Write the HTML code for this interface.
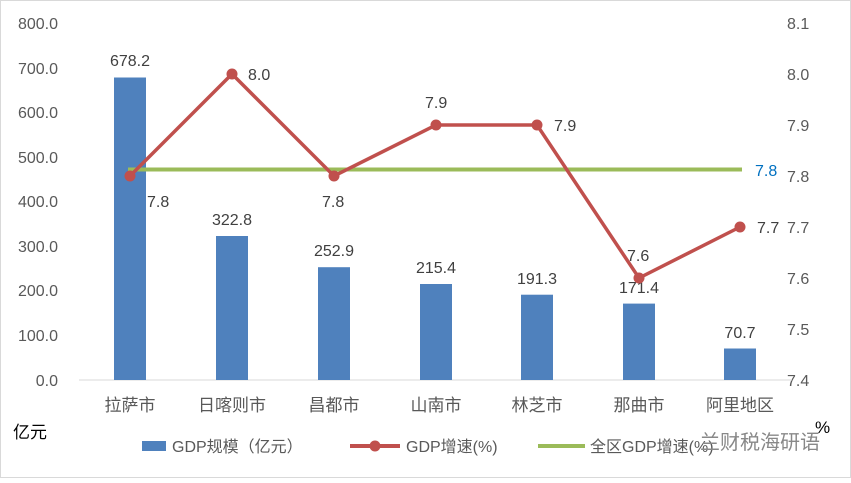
<!DOCTYPE html>
<html><head><meta charset="utf-8"><style>
html,body{margin:0;padding:0;background:#fff}
svg text{font-family:"Liberation Sans","Noto Sans CJK SC",sans-serif;fill:#595959}
</style></head><body>
<svg width="851" height="478" viewBox="0 0 851 478">
<rect x="0.5" y="0.5" width="850" height="477" fill="#fff" stroke="#d9d9d9"/>
<g font-size="16" text-anchor="end">
<text x="58" y="29">800.0</text><text x="58" y="74">700.0</text><text x="58" y="118">600.0</text>
<text x="58" y="163">500.0</text><text x="58" y="207">400.0</text><text x="58" y="252">300.0</text>
<text x="58" y="296">200.0</text><text x="58" y="341">100.0</text><text x="58" y="386">0.0</text>
</g>
<g font-size="16">
<text x="787" y="29">8.1</text><text x="787" y="80">8.0</text><text x="787" y="131">7.9</text>
<text x="787" y="182">7.8</text><text x="787" y="233">7.7</text><text x="787" y="284">7.6</text>
<text x="787" y="335">7.5</text><text x="787" y="386">7.4</text>
</g>
<line x1="79" y1="380" x2="792" y2="380" stroke="#d9d9d9"/>
<g fill="#4f81bd">
<rect x="114" y="77.5" width="32" height="302.5"/>
<rect x="216" y="236" width="32" height="144"/>
<rect x="318" y="267.2" width="32" height="112.8"/>
<rect x="420" y="284" width="32" height="96"/>
<rect x="521" y="294.7" width="32" height="85.3"/>
<rect x="623" y="303.6" width="32" height="76.4"/>
<rect x="724" y="348.5" width="32" height="31.5"/>
</g>
<g font-size="16" text-anchor="middle">
<text x="130" y="66" style="fill:#404040">678.2</text>
<text x="232" y="225" style="fill:#404040">322.8</text>
<text x="334" y="256" style="fill:#404040">252.9</text>
<text x="436" y="273" style="fill:#404040">215.4</text>
<text x="537" y="284" style="fill:#404040">191.3</text>
<text x="639" y="293" style="fill:#404040">171.4</text>
<text x="740" y="338" style="fill:#404040">70.7</text>
</g>
<line x1="128" y1="169.5" x2="742" y2="169.5" stroke="#9bbb59" stroke-width="4"/>
<polyline points="130,176 232,74 334,176 436,125 537,125 639,278 740,227" fill="none" stroke="#c0504d" stroke-width="3.5"/>
<g fill="#c0504d">
<circle cx="130" cy="176" r="5.5"/><circle cx="232" cy="74" r="5.5"/><circle cx="334" cy="176" r="5.5"/>
<circle cx="436" cy="125" r="5.5"/><circle cx="537" cy="125" r="5.5"/><circle cx="639" cy="278" r="5.5"/><circle cx="740" cy="227" r="5.5"/>
</g>
<g font-size="16">
<text x="147" y="207" style="fill:#404040">7.8</text>
<text x="248" y="80" style="fill:#404040">8.0</text>
<text x="322" y="207" style="fill:#404040">7.8</text>
<text x="425" y="108" style="fill:#404040">7.9</text>
<text x="554" y="131" style="fill:#404040">7.9</text>
<text x="627" y="261" style="fill:#404040">7.6</text>
<text x="757" y="233" style="fill:#404040">7.7</text>
<text x="755" y="176" style="fill:#0070c0">7.8</text>
</g>
<g font-size="17" text-anchor="middle">
<text x="130" y="411">拉萨市</text><text x="232" y="411">日喀则市</text><text x="334" y="411">昌都市</text>
<text x="436" y="411">山南市</text><text x="537" y="411">林芝市</text><text x="639" y="411">那曲市</text><text x="740" y="411">阿里地区</text>
</g>
<text x="13" y="438" font-size="17" style="fill:#000">亿元</text>
<text x="815" y="433" font-size="17" style="fill:#000">%</text>
<g font-size="16">
<rect x="142" y="441" width="24" height="10" fill="#4f81bd"/>
<text x="172" y="452">GDP规模（亿元）</text>
<line x1="350" y1="446" x2="400" y2="446" stroke="#c0504d" stroke-width="4"/>
<circle cx="375" cy="446" r="5.5" fill="#c0504d"/>
<text x="406" y="452">GDP增速(%)</text>
<line x1="538" y1="446" x2="585" y2="446" stroke="#9bbb59" stroke-width="4"/>
<text x="590" y="452">全区GDP增速(%)</text>
</g>
<text x="700" y="449" font-size="20" style="fill:#888">兰财税海研语</text>
</svg>
</body></html>
